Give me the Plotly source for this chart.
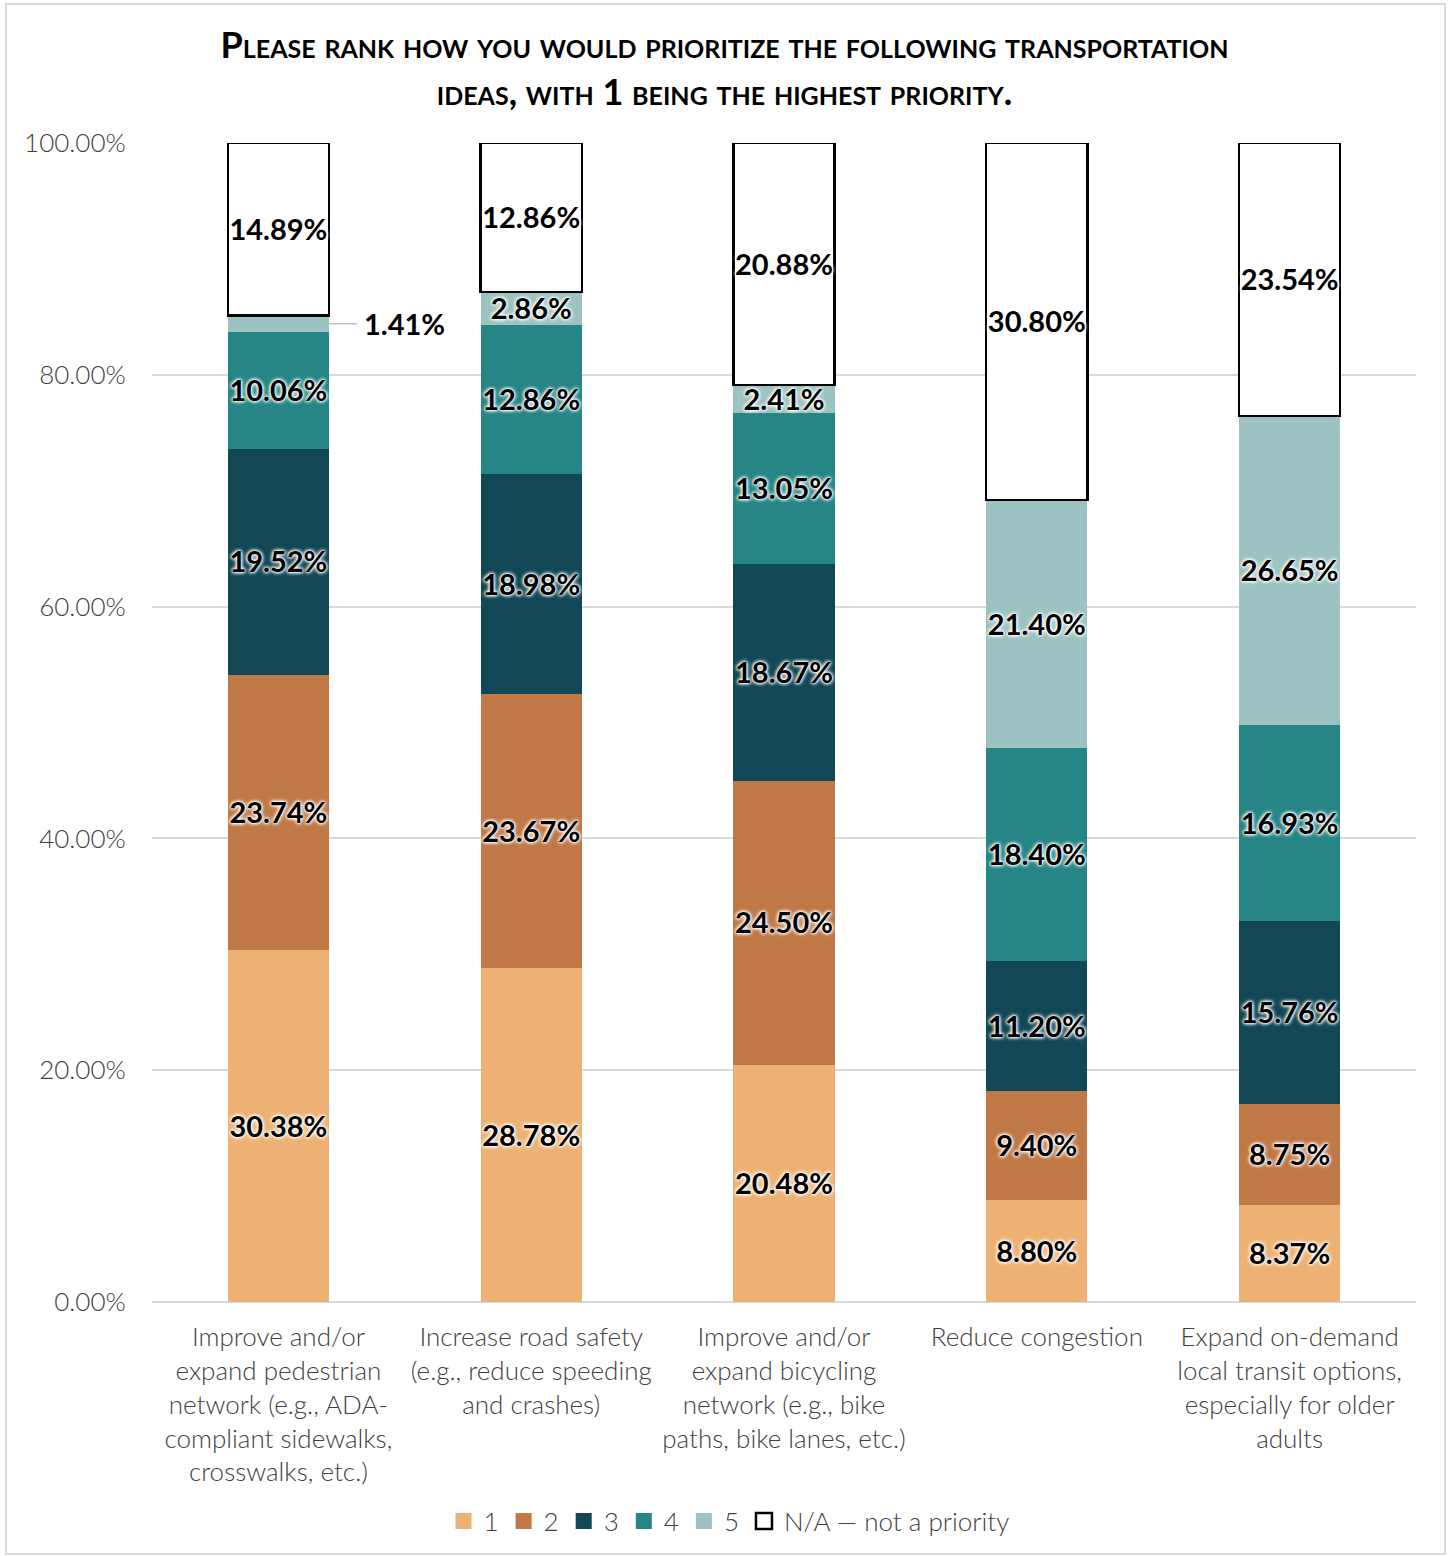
import plotly.graph_objects as go

categories = [
    "Improve and/or<br>expand pedestrian<br>network (e.g., ADA-<br>compliant sidewalks,<br>crosswalks, etc.)",
    "Increase road safety<br>(e.g., reduce speeding<br>and crashes)",
    "Improve and/or<br>expand bicycling<br>network (e.g., bike<br>paths, bike lanes, etc.)",
    "Reduce congestion",
    "Expand on-demand<br>local transit options,<br>especially for older<br>adults",
]
series_names = ["1", "2", "3", "4", "5", "N/A \u2014 not a priority"]
rank1 = [30.38, 28.78, 20.48, 8.80, 8.37]
rank2 = [23.74, 23.67, 24.50, 9.40, 8.75]
rank3 = [19.52, 18.98, 18.67, 11.20, 15.76]
rank4 = [10.06, 12.86, 13.05, 18.40, 16.93]
rank5 = [1.41, 2.86, 2.41, 21.40, 26.65]
rank_na = [14.89, 12.86, 20.88, 30.80, 23.54]
y_ticks = [0, 20, 40, 60, 80, 100]

series = [rank1, rank2, rank3, rank4, rank5, rank_na]
colors = ["#EDB273", "#C07846", "#124855", "#268585", "#9CC3C1", "#FFFFFF"]

xpos = list(range(len(categories)))
fig = go.Figure()

base = [0.0] * len(categories)
label_x, label_y, label_t = [], [], []
outside = None
for si, (name, vals, col) in enumerate(zip(series_names, series, colors)):
    is_na = si == len(series) - 1
    fig.add_trace(go.Bar(
        x=xpos, y=vals, name=name, marker_color=col,
        marker_line_color="#000000" if is_na else col,
        marker_line_width=2.5 if is_na else 0,
        hoverinfo="skip", showlegend=False, legendgroup=name,
    ))
    # legend entry with larger square swatch
    fig.add_trace(go.Scatter(
        x=[None], y=[None], mode="markers", name=name, legendgroup=name,
        marker=dict(symbol="square", size=16, color=col,
                    line=dict(color="#000000" if is_na else col, width=2.5 if is_na else 0)),
        hoverinfo="skip",
    ))
    for i, v in enumerate(vals):
        c = base[i] + v / 2
        if v < 2.0:
            outside = (i, c, v)
        else:
            label_x.append(i)
            label_y.append(c - 0.3)
            label_t.append(f"{v:.2f}%")
        base[i] += v

fig.add_trace(go.Scatter(
    x=label_x, y=label_y, text=label_t, mode="text",
    textposition="middle center", showlegend=False, hoverinfo="skip",
    textfont=dict(family="Lato", size=29, color="#000000", weight="bold",
                  shadow="0px 0px 4px #ffffff, 0px 0px 4px #ffffff, 0px 0px 3px #ffffff, 0px 0px 2px #ffffff"),
))

if outside is not None:
    i, c, v = outside
    fig.add_shape(type="line", x0=i + 0.2, x1=i + 0.31, y0=c, y1=c,
                  xref="x", yref="y", line=dict(color="#BFBFBF", width=1.5))
    fig.add_annotation(x=i + 0.5, y=c, text=f"{v:.2f}%", showarrow=False,
                       xref="x", yref="y",
                       font=dict(family="Lato", size=29, color="#000000", weight="bold"))

# outer border
fig.add_shape(type="rect", xref="paper", yref="paper",
              x0=-146 / 1264, x1=1293 / 1264, y0=-252 / 1159, y1=1 + 139 / 1159,
              line=dict(color="#D9D9D9", width=2), fillcolor="rgba(0,0,0,0)", layer="below")

fig.update_layout(
    width=1449, height=1556,
    barmode="stack", bargap=0.6,
    plot_bgcolor="white", paper_bgcolor="white",
    margin=dict(l=152, r=33, t=143, b=254),
    title=dict(
        text="Please rank how you would prioritize the following transportation<br>ideas, with 1 being the highest priority.",
        x=0.5, xanchor="center", y=1 - 58 / 1556, yanchor="middle",
        font=dict(family="Lato", size=36, color="#000000", weight="bold", variant="small-caps"),
    ),
    xaxis=dict(
        tickmode="array", tickvals=xpos, ticktext=categories,
        range=[-0.5, len(categories) - 0.5],
        ticks="outside", ticklen=12, tickcolor="rgba(0,0,0,0)",
        tickfont=dict(family="Lato", size=26, color="#404040", weight=300),
        showgrid=False, showline=False, zeroline=False,
    ),
    yaxis=dict(
        range=[0, 100], tickvals=y_ticks, ticktext=[f"{t:.2f}%" for t in y_ticks],
        ticks="outside", ticklen=20, tickcolor="rgba(0,0,0,0)",
        tickfont=dict(family="Lato", size=26, color="#404040", weight=300),
        showgrid=True, gridcolor="#D9D9D9", gridwidth=1.5,
        zeroline=True, zerolinecolor="#D9D9D9", zerolinewidth=1.5, showline=False,
    ),
    legend=dict(
        orientation="h", x=(729 - 152) / 1264, xanchor="center",
        y=-(1521 - 1302) / 1159, yanchor="middle",
        font=dict(family="Lato", size=26, color="#404040", weight=300),
        traceorder="normal", itemwidth=30,
    ),
    font=dict(family="Lato"),
)

fig.write_html("out.html", config={"displayModeBar": False},
               post_script="document.body.style.margin='0px';document.body.style.overflow='hidden';")
